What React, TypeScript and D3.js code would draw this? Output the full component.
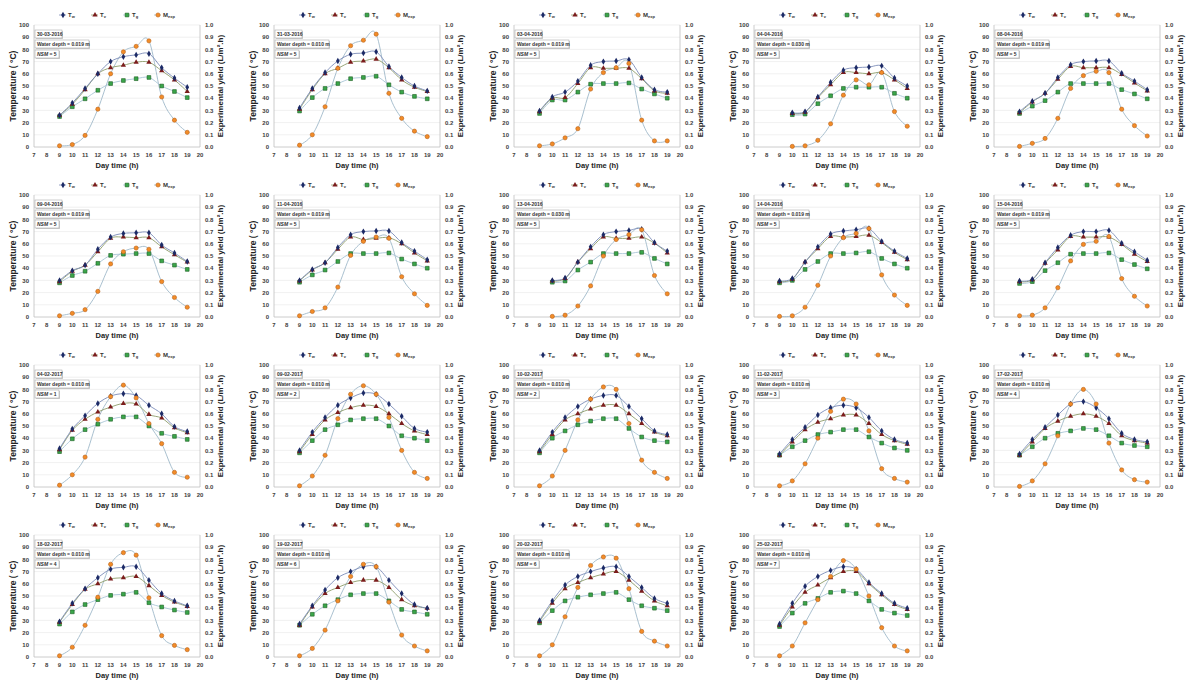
import React from 'react';
import * as d3 from 'd3';

// panel headers
const dates = [
  '30-03-2016', '31-03-2016', '03-04-2016', '04-04-2016', '08-04-2016',
  '09-04-2016', '11-04-2016', '13-04-2016', '14-04-2016', '15-04-2016',
  '04-02-2017', '09-02-2017', '10-02-2017', '11-02-2017', '17-02-2017',
  '18-02-2017', '19-02-2017', '20-02-2017', '25-02-2017',
];
const depths = [
  '0.019', '0.010', '0.019', '0.030', '0.019',
  '0.019', '0.019', '0.030', '0.019', '0.019',
  '0.010', '0.010', '0.010', '0.010', '0.010',
  '0.010', '0.010', '0.010', '0.010',
];
const nsm = [5, 5, 5, 5, 5, 5, 5, 5, 5, 5, 1, 2, 2, 3, 4, 4, 6, 6, 7];
const firstHour = [9, 9, 9, 10, 9, 9, 9, 10, 9, 9, 9, 9, 9, 9, 9, 9, 9, 9, 9];

// Tw (°C)
const tw = [
  [26, 36, 48, 60, 70, 74, 75.5, 76.5, 65, 56.5, 49],
  [32, 48, 61, 70.5, 76, 77, 78, 66, 57, 50, 46],
  [29.5, 41, 45, 54, 67, 70, 70.5, 71.5, 57, 47, 45],
  [28, 29, 41, 53, 63, 65, 65.5, 66.5, 56.5, 50],
  [29, 37.5, 44, 57, 67.5, 70, 70.5, 70.5, 60.5, 54, 47],
  [30, 38, 42.5, 55.5, 65.5, 68.5, 69, 69, 59, 52.5, 45.5],
  [30, 39, 44.5, 57, 67.5, 70, 70.5, 70.5, 61, 54, 47],
  [30, 32, 45, 57.5, 67.5, 70, 71, 72, 61, 54],
  [29.5, 31.5, 45, 57.5, 68, 70.5, 71.5, 72.5, 62, 54, 48],
  [29.5, 31, 44.5, 57, 67, 70, 70, 71, 60.5, 53.5, 46.5],
  [31.5, 47.5, 58.5, 68.5, 74.5, 76.5, 75, 67, 60, 49.5, 45.5],
  [30, 45, 57, 67, 73, 77, 76, 68, 58, 48, 45],
  [30, 45, 57, 66, 72, 75, 75, 66, 56, 46, 43],
  [27, 39, 49, 59, 65, 67, 65, 57, 46, 39, 36],
  [27, 39, 49, 59, 68, 70, 65, 56, 44, 39, 37],
  [29, 44, 56, 65, 72, 73.5, 74, 63, 52, 46, 42],
  [27, 42, 55, 65, 70, 74, 74, 63, 52, 43, 40],
  [30, 46, 59, 66, 70, 73, 74, 66, 57, 48, 44],
  [27, 44, 58, 66, 71, 74, 72, 61, 52, 44, 40],
];

// Tv (°C)
const tv = [
  [26, 35, 47, 60, 65, 67, 69.5, 69.5, 62.5, 55, 45.5],
  [31, 47, 60, 64.5, 69.5, 70.5, 72, 65, 55, 49, 45.5],
  [29, 40, 40.5, 52, 65, 64.5, 64.5, 64.5, 56, 46, 44],
  [27.5, 28.5, 40.5, 51, 61, 61, 60, 61, 55, 48],
  [28, 37, 44, 55.5, 66, 65, 65, 65, 59.5, 52.5, 46],
  [29, 37.5, 42.5, 53.5, 64.5, 65.5, 65, 65, 57.5, 51, 45],
  [29.5, 38.5, 44.5, 55.5, 65.5, 63.5, 64.5, 65, 60, 52.5, 46],
  [29.5, 31.5, 45, 56, 65.5, 64.5, 64.5, 65.5, 60.5, 52.5],
  [29, 31, 45, 56, 66, 65.5, 66, 67, 61, 53, 47],
  [29, 30.5, 44, 55, 66, 65.5, 65.5, 65.5, 59.5, 51.5, 45.5],
  [30.5, 46.5, 55.5, 61.5, 65.5, 68.5, 68, 59.5, 56.5, 48.5, 44.5],
  [29, 43, 55, 61, 65, 67, 66, 60, 52, 46, 43],
  [29, 43, 55, 60, 64, 67, 67, 60, 52, 45, 42],
  [26, 37, 47, 53, 56, 59, 59, 52, 43, 38, 35],
  [26, 37, 48, 54, 58, 60, 58, 52, 42, 38, 36],
  [28.5, 43, 55.5, 60, 64, 65, 66, 58.5, 50.5, 45, 41.5],
  [26, 41, 52, 57, 61, 63, 63, 57, 47, 42, 40],
  [29, 44, 56, 61, 65, 68, 70, 63, 54, 46, 42],
  [26, 41, 53, 59, 65, 70, 70, 60, 51, 43, 39],
];

// Tg (°C)
const tg = [
  [25, 33, 39.5, 46.5, 52, 54.5, 56, 57, 50, 45.5, 40.5],
  [29.5, 40.5, 48, 52, 56, 57, 58, 51, 45, 41.5, 39.5],
  [27.5, 38.5, 38.5, 45, 51.5, 52, 52, 52.5, 47.5, 43.5, 40],
  [26.5, 27, 35.5, 42, 48, 49, 49, 49, 44, 40],
  [27.5, 33.5, 38, 45, 52, 52, 52, 52, 47, 43.5, 39.5],
  [28, 34, 37.5, 44, 50.5, 51.5, 52, 52, 46, 42.5, 39],
  [28.5, 34.5, 38.5, 45.5, 52, 52, 52, 52.5, 47.5, 43.5, 40],
  [28.5, 29.5, 38.5, 45, 52, 52, 52, 53, 48, 43.5],
  [28, 30, 39, 45.5, 52, 52, 52.5, 53.5, 48, 43.5, 40],
  [27.5, 29, 38, 44.5, 51.5, 52, 52, 52.5, 47, 43, 39.5],
  [29, 39.5, 47, 51.5, 55.5, 57.5, 57.5, 50, 44, 41.5, 39],
  [28, 38, 47, 51, 55, 56, 56, 50, 42, 40, 38],
  [28, 40, 46, 51, 54, 56, 56, 48, 41, 38, 37],
  [26, 33, 38, 43, 45, 47, 47, 41, 36, 32, 30],
  [26, 33, 40, 44, 46, 48, 47, 42, 36, 34, 33],
  [27, 37, 43, 47, 50.5, 51.5, 53, 44.5, 41, 38.5, 36.5],
  [26, 35, 42, 47, 51, 52, 52, 46, 39, 37, 35],
  [28, 38, 46, 49, 51, 52, 53, 47, 42, 40, 38],
  [25, 36, 44, 48, 53, 54, 52, 46, 39, 36, 34],
];

// Mexp (L/m².h)
const mexp = [
  [0.01, 0.02, 0.095, 0.31, 0.6, 0.78, 0.825, 0.87, 0.41, 0.22, 0.12],
  [0.015, 0.1, 0.33, 0.645, 0.83, 0.875, 0.925, 0.44, 0.235, 0.13, 0.085],
  [0.01, 0.025, 0.075, 0.15, 0.475, 0.61, 0.65, 0.685, 0.22, 0.05, 0.05],
  [0.005, 0.01, 0.055, 0.19, 0.425, 0.55, 0.51, 0.61, 0.29, 0.17],
  [0.005, 0.03, 0.07, 0.235, 0.48, 0.585, 0.62, 0.61, 0.31, 0.175, 0.09],
  [0.01, 0.03, 0.06, 0.21, 0.435, 0.535, 0.565, 0.555, 0.29, 0.16, 0.08],
  [0.01, 0.045, 0.075, 0.245, 0.505, 0.62, 0.655, 0.645, 0.33, 0.19, 0.095],
  [0.005, 0.015, 0.09, 0.255, 0.5, 0.635, 0.675, 0.715, 0.34, 0.19],
  [0.005, 0.01, 0.08, 0.26, 0.5, 0.65, 0.685, 0.725, 0.345, 0.18, 0.095],
  [0.01, 0.015, 0.075, 0.24, 0.46, 0.595, 0.62, 0.66, 0.315, 0.17, 0.09],
  [0.015, 0.1, 0.245, 0.555, 0.74, 0.835, 0.73, 0.52, 0.355, 0.12, 0.08],
  [0.01, 0.09, 0.26, 0.56, 0.76, 0.83, 0.76, 0.57, 0.3, 0.12, 0.07],
  [0.01, 0.09, 0.3, 0.55, 0.72, 0.82, 0.8, 0.52, 0.22, 0.12, 0.07],
  [0.01, 0.05, 0.19, 0.4, 0.62, 0.72, 0.68, 0.46, 0.15, 0.07, 0.04],
  [0.005, 0.05, 0.19, 0.42, 0.68, 0.8, 0.68, 0.36, 0.14, 0.06, 0.04],
  [0.01, 0.08, 0.26, 0.49, 0.76, 0.855, 0.835, 0.485, 0.175, 0.095, 0.06],
  [0.01, 0.07, 0.22, 0.46, 0.66, 0.76, 0.74, 0.45, 0.18, 0.09, 0.05],
  [0.01, 0.1, 0.33, 0.57, 0.75, 0.82, 0.81, 0.56, 0.21, 0.13, 0.09],
  [0.01, 0.09, 0.28, 0.47, 0.66, 0.79, 0.72, 0.5, 0.24, 0.09, 0.05],
];

const hourTicks = [7, 8, 9, 10, 11, 12, 13, 14, 15, 16, 17, 18, 19, 20];
const tempTicks = [0, 10, 20, 30, 40, 50, 60, 70, 80, 90, 100];
const yieldTicks = [0, 0.1, 0.2, 0.3, 0.4, 0.5, 0.6, 0.7, 0.8, 0.9, 1.0];

const PANEL_W = 240;
const PANEL_H = 170;
const m = { left: 34, right: 200, top: 25, bottom: 147 };
const FONT = '"Liberation Sans", Arial, sans-serif';

const C = {
  tw: { fill: '#1c2a66', line: '#7b8bb8' },
  tv: { fill: '#7b1c1c', line: '#8d9c6a' },
  tg: { fill: '#3aa64a', stroke: '#1b5e20', line: '#a9c5d6' },
  mx: { fill: '#f28c28', stroke: '#b8621a', line: '#9fb9c9' },
};

const diamond = d3.symbol(d3.symbolDiamond, 12)();
const triangle = d3.symbol(d3.symbolTriangle, 12)();
const square = d3.symbol(d3.symbolSquare, 14)();

const Marker = ({ kind, x, y }) => {
  const t = `translate(${x},${y})`;
  if (kind === 'tw') return <path d={diamond} transform={t} fill={C.tw.fill} />;
  if (kind === 'tv') return <path d={triangle} transform={t} fill={C.tv.fill} />;
  if (kind === 'tg')
    return <path d={square} transform={t} fill={C.tg.fill} stroke={C.tg.stroke} strokeWidth={0.6} />;
  return <circle cx={x} cy={y} r={2.1} fill={C.mx.fill} stroke={C.mx.stroke} strokeWidth={0.6} />;
};

const legendItems = [
  { kind: 'tw', x: 63, main: 'T', sub: 'w' },
  { kind: 'tv', x: 95, main: 'T', sub: 'v' },
  { kind: 'tg', x: 127, main: 'T', sub: 'g' },
  { kind: 'mx', x: 158, main: 'M', sub: 'exp' },
];

const Panel = ({ i }) => {
  const col = i % 5;
  const row = Math.floor(i / 5);
  const x = d3.scaleLinear().domain([7, 20]).range([m.left, m.right]);
  const yT = d3.scaleLinear().domain([0, 100]).range([m.bottom, m.top]);
  const yM = d3.scaleLinear().domain([0, 1]).range([m.bottom, m.top]);
  const hours = tw[i].map((_, k) => firstHour[i] + k);

  const lineT = d3
    .line<number>()
    .x((_, k) => x(hours[k]))
    .y((d) => yT(d))
    .curve(d3.curveCatmullRom.alpha(0));
  const lineM = d3
    .line<number>()
    .x((_, k) => x(hours[k]))
    .y((d) => yM(d))
    .curve(d3.curveCatmullRom.alpha(0));

  const series = [
    { kind: 'tg', data: tg[i], line: C.tg.line },
    { kind: 'tv', data: tv[i], line: C.tv.line },
    { kind: 'tw', data: tw[i], line: C.tw.line },
  ];

  return (
    <g transform={`translate(${col * PANEL_W},${row * PANEL_H})`} fontFamily={FONT}>
      {/* grid */}
      {tempTicks.slice(1).map((t) => (
        <line key={t} x1={m.left} x2={m.right} y1={yT(t)} y2={yT(t)} stroke="#e6e6e6" strokeWidth={0.6} />
      ))}
      <line x1={m.left} x2={m.right} y1={m.bottom} y2={m.bottom} stroke="#bfbfbf" strokeWidth={0.8} />
      <line x1={m.left} x2={m.left} y1={m.top} y2={m.bottom} stroke="#bfbfbf" strokeWidth={0.8} />
      <line x1={m.right} x2={m.right} y1={m.top} y2={m.bottom} stroke="#bfbfbf" strokeWidth={0.8} />

      {/* ticks */}
      {tempTicks.map((t) => (
        <text key={t} x={m.left - 5} y={yT(t)} dy="0.35em" textAnchor="end" fontSize={6} fontWeight="bold" fill="#404040">
          {t}
        </text>
      ))}
      {yieldTicks.map((t) => (
        <text key={t} x={m.right + 5} y={yM(t)} dy="0.35em" textAnchor="start" fontSize={6} fontWeight="bold" fill="#404040">
          {d3.format('.1f')(t)}
        </text>
      ))}
      {hourTicks.map((h) => (
        <text key={h} x={x(h)} y={m.bottom + 10} textAnchor="middle" fontSize={6} fontWeight="bold" fill="#404040">
          {h}
        </text>
      ))}

      {/* titles */}
      <text transform={`translate(16,${(m.top + m.bottom) / 2}) rotate(-90)`} textAnchor="middle" fontSize={8.5} fontWeight="bold" fill="#222">
        Temperature ( °C)
      </text>
      <text transform={`translate(223,${(m.top + m.bottom) / 2}) rotate(-90)`} textAnchor="middle" fontSize={8} fontWeight="bold" fill="#222">
        Experimental yield  (L/m².h)
      </text>
      <text x={(m.left + m.right) / 2} y={m.bottom + 21} textAnchor="middle" fontSize={7.5} fontWeight="bold" fill="#222">
        Day time (h)
      </text>

      {/* legend */}
      {legendItems.map((it) => (
        <g key={it.kind}>
          <line
            x1={it.x - 4}
            x2={it.x + 3}
            y1={15}
            y2={15}
            stroke={C[it.kind].line}
            strokeWidth={0.8}
          />
          <Marker kind={it.kind} x={it.x} y={15} />
          <text x={it.x + 5} y={17} fontSize={6} fontWeight="bold" fill="#333">
            {it.main}
            <tspan fontSize={4} dy={1.2}>
              {it.sub}
            </tspan>
          </text>
        </g>
      ))}

      {/* annotation boxes */}
      <rect x={36} y={31} width={27} height={8} fill="#cfcfcf" />
      <rect x={35} y={30} width={27} height={8} fill="#fff" stroke="#9a9a9a" strokeWidth={0.5} />
      <text x={37} y={36} fontSize={5} fontWeight="bold" fill="#333">
        {dates[i]}
      </text>
      <rect x={36} y={41} width={54} height={8} fill="#cfcfcf" />
      <rect x={35} y={40} width={54} height={8} fill="#fff" stroke="#9a9a9a" strokeWidth={0.5} />
      <text x={37} y={46} fontSize={5} fontWeight="bold" fill="#333">
        {`Water depth = ${depths[i]} m`}
      </text>
      <rect x={36} y={51} width={24} height={8} fill="#cfcfcf" />
      <rect x={35} y={50} width={24} height={8} fill="#fff" stroke="#9a9a9a" strokeWidth={0.5} />
      <text x={37} y={56} fontSize={5} fontWeight="bold" fill="#333">
        <tspan fontStyle="italic">NSM</tspan>
        {` = ${nsm[i]}`}
      </text>

      {/* curves */}
      <path d={lineM(mexp[i])} fill="none" stroke={C.mx.line} strokeWidth={0.9} />
      {series.map((s) => (
        <path key={s.kind} d={lineT(s.data)} fill="none" stroke={s.line} strokeWidth={0.9} />
      ))}

      {/* markers */}
      {series.map((s) =>
        s.data.map((d, k) => <Marker key={s.kind + k} kind={s.kind} x={x(hours[k])} y={yT(d)} />)
      )}
      {mexp[i].map((d, k) => (
        <Marker key={'mx' + k} kind="mx" x={x(hours[k])} y={yM(d)} />
      ))}
    </g>
  );
};

export default function App() {
  return (
    <svg
      width={1197}
      height={689}
      style={{ position: 'absolute', left: 0, top: 0, background: '#fff' }}
    >
      <rect width={1197} height={689} fill="#fff" />
      {dates.map((_, i) => (
        <Panel key={i} i={i} />
      ))}
    </svg>
  );
}
